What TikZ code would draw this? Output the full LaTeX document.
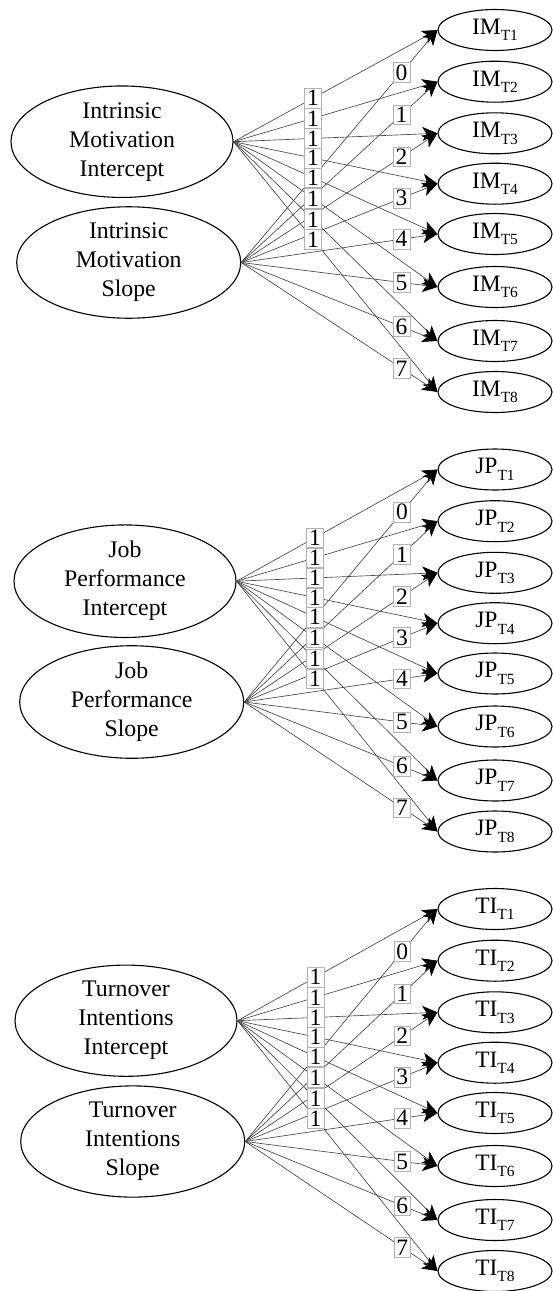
\documentclass[tikz,border=0pt]{standalone}
\usepackage{fontspec}
\setmainfont{Liberation Serif}
\usetikzlibrary{arrows.meta,calc,shapes.geometric}
\newcommand{\mysub}[1]{\raisebox{-6.5pt}{\fontsize{15.5}{15.5}\selectfont #1}}
\tikzset{
  latent/.style={ellipse, draw, line width=1.1pt, minimum width=222pt, minimum height=110pt,
    inner sep=0pt, align=center, font=\fontsize{23.8}{29}\selectfont},
  obs/.style={ellipse, draw, line width=1.1pt, minimum width=114pt, minimum height=41pt,
    inner sep=0pt, font=\fontsize{23.5}{27}\selectfont},
  loadline/.style={draw=black!72, line width=0.65pt, -{Stealth[length=15pt,width=14pt,inset=4pt,black]}},
  coef/.style={draw=black!30, fill=white, line width=0.5pt, inner xsep=2.5pt, inner ysep=2pt,
    font=\fontsize{23.5}{23.5}\selectfont}
}
\begin{document}
\begin{tikzpicture}[x=1pt,y=-1pt]
\useasboundingbox (0,0) rectangle (553,1291);
\foreach \ab/\dy/\dx/\A/\B in {IM/0/0/Intrinsic/Motivation, JP/439.5/3/Job/Performance, TI/879/4/Turnover/Intentions}{
  \node[latent] (\ab I) at (122+\dx,141.7+\dy) {\A\\\B\\Intercept};
  \node[latent, minimum width=224pt, minimum height=109pt] (\ab S) at (128.7+\dx,262.5+\dy) {\A\\\B\\Slope};
  \foreach \k/\yy in {1/30, 2/81.7, 3/133.3, 4/183.7, 5/234, 6/287, 7/341, 8/392}{
    \node[obs] (\ab\k) at (495,\yy+\dy) {\ab\mysub{T\k}};
  }
  \foreach \k in {1,...,8}{
    \draw[loadline] (\ab I.east) -- (\ab\k.west);
    \draw[loadline] (\ab S.east) -- (\ab\k.west);
  }
  \foreach \k [evaluate=\k as \v using int(\k-1)] in {1,...,8}{
    \node[coef] (\ab c\k) at ($(\ab I.east)!0.39!(\ab\k.west)$) {1};
    \node[coef] (\ab d\k) at ($(\ab S.east)!0.817!(\ab\k.west)$) {\v};
  }
}
\end{tikzpicture}
\end{document}
